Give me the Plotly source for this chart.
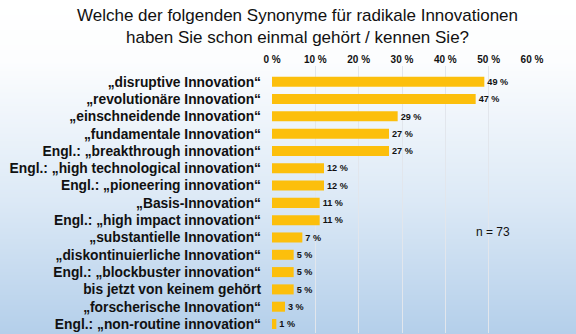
import base64, struct, zlib
import plotly.graph_objects as go

categories = [
    "„disruptive Innovation“",
    "„revolutionäre Innovation“",
    "„einschneidende Innovation“",
    "„fundamentale Innovation“",
    "Engl.: „breakthrough innovation“",
    "Engl.: „high technological innovation“",
    "Engl.: „pioneering innovation“",
    "„Basis-Innovation“",
    "Engl.: „high impact innovation“",
    "„substantielle Innovation“",
    "„diskontinuierliche Innovation“",
    "Engl.: „blockbuster innovation“",
    "bis jetzt von keinem gehört",
    "„forscherische Innovation“",
    "Engl.: „non-routine innovation“",
]
values = [49, 47, 29, 27, 27, 12, 12, 11, 11, 7, 5, 5, 5, 3, 1]
tick_vals = [0, 10, 20, 30, 40, 50, 60]
tick_text = ["0 %", "10 %", "20 %", "30 %", "40 %", "50 %", "60 %"]

W, H = 576, 334
L, R, T, B = 272, 44, 66, 1
pw, ph = W - L - R, H - T - B


def gradient_png(height):
    stops = [(0.0, (255, 255, 255)), (0.18, (252, 253, 254)),
             (0.6, (220, 233, 246)), (1.0, (180, 207, 234))]
    rows = b""
    for i in range(height):
        t = i / (height - 1)
        for (a, ca), (b, cb) in zip(stops, stops[1:]):
            if a <= t <= b:
                f = (t - a) / (b - a)
                c = [round(ca[k] + (cb[k] - ca[k]) * f) for k in range(3)]
                break
        rows += b"\x00" + bytes(c) * 2

    def chunk(tag, data):
        return struct.pack(">I", len(data)) + tag + data + struct.pack(">I", zlib.crc32(tag + data) & 0xffffffff)

    png = b"\x89PNG\r\n\x1a\n"
    png += chunk(b"IHDR", struct.pack(">IIBBBBB", 2, height, 8, 2, 0, 0, 0))
    png += chunk(b"IDAT", zlib.compress(rows))
    png += chunk(b"IEND", b"")
    return "data:image/png;base64," + base64.b64encode(png).decode()


src = gradient_png(H)

fig = go.Figure(go.Bar(
    x=values,
    y=categories,
    orientation="h",
    marker=dict(color="#FCBF0C", line=dict(width=0)),
    width=0.58,
    text=[f"{v} %" for v in values],
    textposition="outside",
    textfont=dict(family="Liberation Sans, Arial, sans-serif", size=10, color="#111111", weight="bold"),
    cliponaxis=False,
))

fig.update_layout(
    width=W, height=H,
    margin=dict(l=L, r=R, t=T, b=B),
    paper_bgcolor="rgba(0,0,0,0)",
    plot_bgcolor="rgba(0,0,0,0)",
    showlegend=False,
    font=dict(family="Liberation Sans, Arial, sans-serif", color="#111111"),
    xaxis=dict(
        side="top", range=[0, 60], tickvals=tick_vals, ticktext=tick_text,
        showgrid=True, gridcolor="#e2e6ec", gridwidth=1, zeroline=False,
        showline=False, ticks="", ticklabelstandoff=0,
        tickfont=dict(size=10, weight="bold", color="#111111"),
    ),
    yaxis=dict(
        range=[14.52, -0.91], showgrid=False, ticks="", showline=False,
        ticklabelstandoff=10,
        tickfont=dict(size=13.8, weight="bold", color="#111111"),
    ),
    images=[dict(
        source=src, xref="paper", yref="paper",
        x=-L / pw, y=1 + T / ph, sizex=W / pw, sizey=H / ph,
        xanchor="left", yanchor="top", sizing="stretch", layer="below",
    )],
    annotations=[
        dict(
            text="Welche der folgenden Synonyme für radikale Innovationen<br>haben Sie schon einmal gehört / kennen Sie?",
            xref="paper", yref="paper", x=(297 - L) / pw, y=1 + (T - 4) / ph,
            xanchor="center", yanchor="top", showarrow=False,
            font=dict(size=17, color="#111111"),
        ),
        dict(
            text="n = 73", x=51, y=8.7, xref="x", yref="y",
            showarrow=False, font=dict(size=12, color="#111111"),
        ),
    ],
)

fig.write_html("out.html")
